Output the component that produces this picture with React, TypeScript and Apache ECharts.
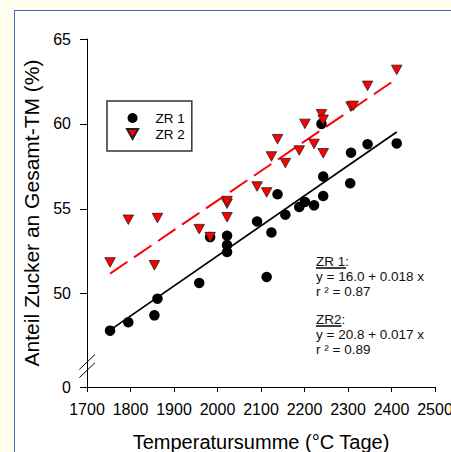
import React, { useEffect, useRef } from 'react';
import * as echarts from 'echarts';

// ---- data ----
const zr1X = [1753, 1795, 1855, 1862, 1958, 1983, 2022, 2022, 2022, 2091, 2113, 2124, 2138, 2156, 2188, 2201, 2222, 2239, 2243, 2243, 2307, 2305, 2345, 2412];
const zr1Y = [47.82, 48.31, 48.72, 49.7, 50.63, 53.33, 53.41, 52.86, 52.45, 54.25, 50.98, 53.6, 55.85, 54.65, 55.1, 55.4, 55.2, 60.0, 56.9, 55.75, 58.3, 56.5, 58.8, 58.85];
const zr2X = [1753, 1795, 1862, 1855, 1958, 1983, 2022, 2022, 2022, 2091, 2113, 2124, 2138, 2156, 2188, 2201, 2222, 2239, 2243, 2243, 2307, 2312, 2345, 2412];
const zr2Y = [51.84, 54.35, 54.45, 51.67, 53.8, 53.33, 55.3, 55.45, 54.5, 56.31, 55.96, 58.08, 59.1, 57.69, 58.43, 60.0, 58.82, 60.57, 60.24, 58.27, 61.02, 61.06, 62.24, 63.18];
const fitZR1X = [1753, 2412];
const fitZR1Y = [47.85, 59.52];
const fitZR2X = [1753, 2412];
const fitZR2Y = [51.18, 62.66];

const seriesNames = ['ZR 1', 'ZR 2'];
const xMin = 1700;
const xMax = 2500;
const xStep = 100;
const yTicks = [50, 55, 60, 65];
const yBreakValue = 44.5;
const yBreakLabel = '0';
const xAxisTitle = 'Temperatursumme (°C Tage)';
const yAxisTitle = 'Anteil Zucker an Gesamt-TM (%)';
const eqZR1 = ['ZR 1', ':', 'y = 16.0 + 0.018 x', 'r ² = 0.87'];
const eqZR2 = ['ZR2', ':', 'y = 20.8 + 0.017 x', 'r ² = 0.89'];

const FONT = '"Liberation Sans", Arial, Helvetica, sans-serif';
const TRI = 'path://M0 0L10 0L5 9Z';

function pairs(xs: number[], ys: number[]) {
  return xs.map((x, i) => [x, ys[i]]);
}

function eqGraphics(lines: string[], left: number, top: number, underlineW: number) {
  const fs = 13.5;
  const out: any[] = [];
  out.push({
    type: 'text', left, top: top - 8, z: 10,
    style: { text: lines[0] + lines[1], font: `${fs}px ${FONT}`, fill: '#111' },
  });
  out.push({
    type: 'line', z: 10,
    shape: { x1: left, y1: top + 6, x2: left + underlineW, y2: top + 6 },
    style: { stroke: '#111', lineWidth: 1.6 },
  });
  out.push({
    type: 'text', left, top: top + 15 - 8, z: 10,
    style: { text: lines[2], font: `${fs}px ${FONT}`, fill: '#111' },
  });
  out.push({
    type: 'text', left, top: top + 30 - 8, z: 10,
    style: { text: lines[3], font: `${fs}px ${FONT}`, fill: '#111' },
  });
  return out;
}

export default function App() {
  const ref = useRef<HTMLDivElement>(null);

  useEffect(() => {
    if (!ref.current) return;
    const chart = echarts.init(ref.current, undefined, { renderer: 'svg' });
    const yVals = [yBreakValue, ...yTicks];
    chart.setOption({
      animation: false,
      textStyle: { fontFamily: FONT },
      grid: { left: 87, top: 39, width: 348, height: 348, containLabel: false, outerBoundsMode: 'none' },
      legend: {
        data: seriesNames,
        orient: 'vertical',
        left: 107,
        top: 101,
        padding: [10, 7, 10, 19],
        itemWidth: 36,
        itemHeight: 10,
        itemGap: 2,
        borderColor: '#333',
        borderWidth: 1.5,
        borderRadius: 0,
        textStyle: { fontFamily: FONT, fontSize: 13.5, lineHeight: 14, color: '#000' },
      },
      xAxis: {
        type: 'value',
        min: xMin,
        max: xMax,
        interval: xStep,
        name: xAxisTitle,
        nameLocation: 'middle',
        nameGap: 45,
        nameTextStyle: { fontFamily: FONT, fontSize: 20, color: '#000' },
        axisLine: { show: true, onZero: false, lineStyle: { color: '#000', width: 1 } },
        axisTick: { show: true, length: 5, lineStyle: { color: '#000', width: 1 } },
        axisLabel: {
          fontFamily: FONT, fontSize: 16, color: '#000', margin: 14, showMaxLabel: true, showMinLabel: true,
          formatter: (v: number) => String(v),
        },
        splitLine: { show: false },
      },
      yAxis: {
        type: 'value',
        min: yBreakValue,
        max: 65,
        name: yAxisTitle,
        nameLocation: 'middle',
        nameGap: 44,
        nameTextStyle: { fontFamily: FONT, fontSize: 21, color: '#000' },
        axisLine: { show: true, onZero: false, lineStyle: { color: '#000', width: 1 } },
        axisTick: { show: true, length: 7, customValues: yVals, lineStyle: { color: '#000', width: 1 } },
        axisLabel: {
          customValues: yVals,
          formatter: (v: number) => (Math.abs(v - yBreakValue) < 1e-6 ? yBreakLabel : String(v)),
          fontFamily: FONT, fontSize: 16, color: '#000', margin: 16,
        },
        splitLine: { show: false },
      },
      graphic: [
        { type: 'line', z: 10, shape: { x1: 79.3, y1: 369.5, x2: 95, y2: 354.5 }, style: { stroke: '#000', lineWidth: 1 } },
        { type: 'line', z: 10, shape: { x1: 79.3, y1: 377.7, x2: 95, y2: 362.7 }, style: { stroke: '#000', lineWidth: 1 } },
        ...eqGraphics(eqZR1, 316, 262, 30),
        ...eqGraphics(eqZR2, 316, 320, 25.5),
      ],
      series: [
        {
          name: 'fit1', type: 'line', data: pairs(fitZR1X, fitZR1Y), showSymbol: false, silent: true, z: 1,
          lineStyle: { color: '#000', width: 1.8 },
        },
        {
          name: 'fit2', type: 'line', data: pairs(fitZR2X, fitZR2Y), showSymbol: false, silent: true, z: 1,
          lineStyle: { color: '#ff0000', width: 2, type: [21, 8] },
        },
        {
          name: seriesNames[0], type: 'scatter', data: pairs(zr1X, zr1Y), symbol: 'circle', symbolSize: 10.5, z: 3,
          itemStyle: { color: '#000', opacity: 1 },
        },
        {
          name: seriesNames[1], type: 'scatter', data: pairs(zr2X, zr2Y), symbol: TRI, symbolSize: [10.5, 9.5], z: 4,
          itemStyle: { color: '#ff0000', borderColor: '#222', borderWidth: 0.8, opacity: 1 },
        },
      ],
    });
    return () => chart.dispose();
  }, []);

  return (
    <div style={{ position: 'fixed', left: 0, top: 0, width: 451, height: 452, background: '#FFFFF0', overflow: 'hidden' }}>
      <div
        style={{
          position: 'absolute', left: 14, top: 10, width: 460, height: 460, background: '#fff',
          borderLeft: '1.5px solid #4A6AAE', borderTop: '1.5px solid #4A6AAE', boxSizing: 'border-box',
        }}
      />
      <div ref={ref} style={{ position: 'absolute', left: 0, top: 0, width: 451, height: 452 }} />
    </div>
  );
}
